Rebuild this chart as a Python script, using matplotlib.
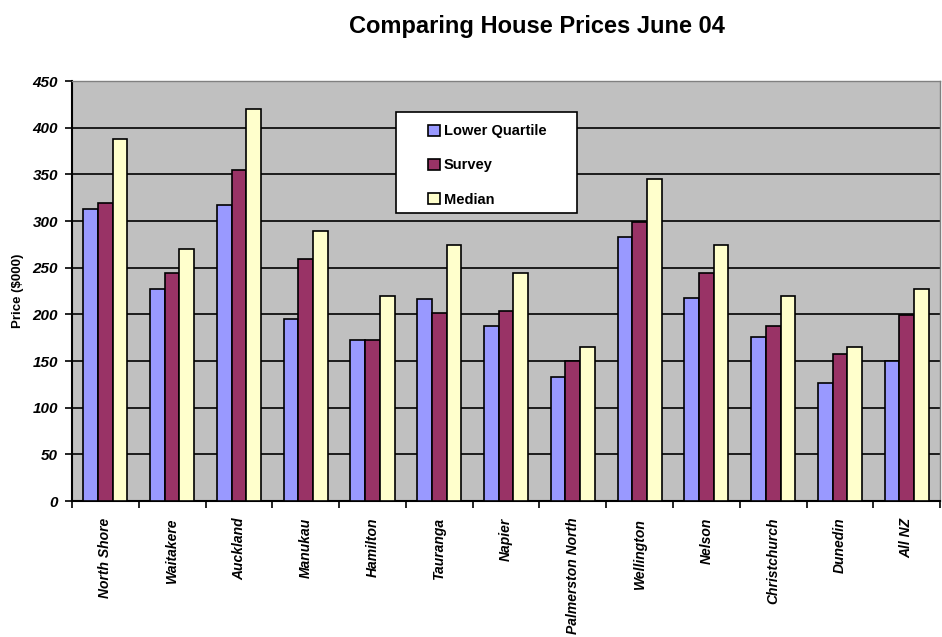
import matplotlib.pyplot as plt
from matplotlib.patches import Rectangle
import numpy as np

plt.rcParams['font.family'] = ['Liberation Sans', 'DejaVu Sans']

# data
regions = ['North Shore', 'Waitakere', 'Auckland', 'Manukau', 'Hamilton', 'Tauranga',
           'Napier', 'Palmerston North', 'Wellington', 'Nelson', 'Christchurch',
           'Dunedin', 'All NZ']
lower_quartile = [313, 227, 317, 195, 173, 216, 188, 133, 283, 218, 176, 126, 150]
survey = [319, 244, 355, 259, 173, 201, 204, 150, 299, 244, 188, 158, 199]
median = [388, 270, 420, 289, 220, 274, 244, 165, 345, 274, 220, 165, 227]
y_ticks = [0, 50, 100, 150, 200, 250, 300, 350, 400, 450]

fig = plt.figure(figsize=(9.42, 6.37), dpi=100)
ax = fig.add_axes([0.0764, 0.2135, 0.9216, 0.6593])
ax.set_facecolor('#C0C0C0')

x = np.arange(len(regions))
w = 0.22
ax.bar(x - w, lower_quartile, w, color='#9999FF', edgecolor='black', linewidth=1.2,
       label='Lower Quartile', zorder=3)
ax.bar(x, survey, w, color='#993366', edgecolor='black', linewidth=1.2,
       label='Survey', zorder=3)
ax.bar(x + w, median, w, color='#FFFFCC', edgecolor='black', linewidth=1.2,
       label='Median', zorder=3)

ax.set_xlim(-0.5, len(regions) - 0.5)
ax.set_ylim(0, 450)
ax.set_yticks(y_ticks)
ax.set_yticklabels([str(v) for v in y_ticks], fontsize=11, fontweight='bold', style='italic')
ax.yaxis.grid(True, color='black', linewidth=1.2, zorder=0)
ax.set_axisbelow(True)

# category labels between boundary ticks
ax.set_xticks(np.arange(len(regions) + 1) - 0.5)
ax.set_xticklabels([])
ax.set_xticks(x, minor=True)
ax.set_xticklabels(regions, minor=True, rotation=90, fontsize=10, fontweight='bold',
                   style='italic', va='top')
ax.tick_params(axis='x', which='minor', length=0, pad=12)
ax.tick_params(axis='x', which='major', length=5, width=1.2, direction='out')
ax.tick_params(axis='y', length=5, width=1.2, direction='out', pad=5)

for s in ['left', 'bottom']:
    ax.spines[s].set_linewidth(1.5)
    ax.spines[s].set_color('black')
for s in ['top', 'right']:
    ax.spines[s].set_color('#808080')
    ax.spines[s].set_linewidth(1.0)

ax.set_ylabel('Price ($000)', fontsize=9.5, fontweight='bold', labelpad=6)

fig.text(0.5695, 0.948, 'Comparing House Prices June 04', ha='center', va='baseline',
         fontsize=17, fontweight='bold')

# legend box
ax.add_patch(Rectangle((0.373, 0.686), 0.209, 0.240, transform=ax.transAxes,
                       facecolor='white', edgecolor='black', linewidth=1.2, zorder=4))
leg = ax.legend(loc='center', bbox_to_anchor=(0.4785, 0.799), frameon=False,
                prop={'weight': 'bold', 'size': 10.5}, handlelength=0.8,
                handleheight=0.8, handletextpad=0.3, labelspacing=1.38,
                borderpad=0, borderaxespad=0)
leg.set_zorder(5)

fig.savefig('out.png', dpi=100)
